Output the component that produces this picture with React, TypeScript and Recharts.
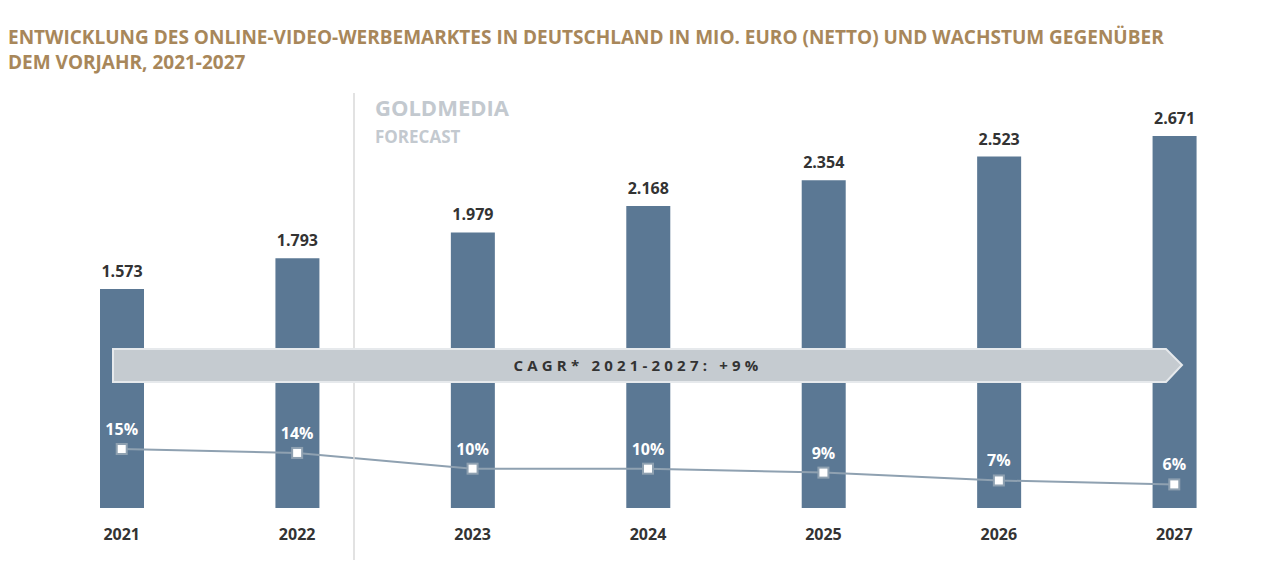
import React from 'react'
import { ComposedChart, Bar, Line, XAxis, YAxis, LabelList } from 'recharts'

const years = ['2021', '2022', '2023', '2024', '2025', '2026', '2027']
const marketValues = [1573, 1793, 1979, 2168, 2354, 2523, 2671]
const growthPct = [15, 14, 10, 10, 9, 7, 6]

const data = years.map((year, i) => ({ year, value: marketValues[i], growth: growthPct[i] }))

const fmt = (v: number) => v.toLocaleString('de-DE')
const font = '"Open Sans", "Noto Sans", sans-serif'

const SquareDot = (props: any) => {
  const { cx, cy } = props
  return <rect x={cx - 5} y={cy - 5} width={10} height={10} fill="#fff" stroke="#8fa1b1" strokeWidth={2} />
}

export default function App() {
  return (
    <div style={{ position: 'fixed', left: 0, top: 0, width: 1262, height: 585, background: '#fff', fontFamily: font }}>
      <div style={{ position: 'absolute', left: 8, top: 25, color: '#a8875a', fontWeight: 700, fontSize: 19, lineHeight: '25px', width: 1250, whiteSpace: 'nowrap' }}>
        ENTWICKLUNG DES ONLINE-VIDEO-WERBEMARKTES IN DEUTSCHLAND IN MIO. EURO (NETTO) UND WACHSTUM GEGENÜBER<br />DEM VORJAHR, 2021-2027
      </div>
      <ComposedChart width={1262} height={585} data={data} margin={{ top: 136, right: 0, left: 34, bottom: 47 }} style={{ position: 'absolute', left: 0, top: 0 }}>
        <XAxis dataKey="year" axisLine={false} tickLine={false} tick={{ fill: '#333', fontSize: 16, fontWeight: 700, fontFamily: font }} dy={13} />
        <YAxis yAxisId="l" hide domain={[0, 2671]} />
        <YAxis yAxisId="r" hide orientation="right" domain={[0, 94.6]} />
        <Bar yAxisId="l" dataKey="value" fill="#5b7894" barSize={44} isAnimationActive={false}>
          <LabelList dataKey="value" position="top" offset={12} formatter={(v: any) => fmt(v)} style={{ fill: '#333', fontSize: 16, fontWeight: 700, fontFamily: font }} />
        </Bar>
        <Line yAxisId="r" dataKey="growth" stroke="#8fa1b1" strokeWidth={2} dot={<SquareDot />} isAnimationActive={false}>
          <LabelList dataKey="growth" position="top" offset={14} formatter={(v: any) => v + '%'} style={{ fill: '#fff', fontSize: 16, fontWeight: 700, fontFamily: font }} />
        </Line>
      </ComposedChart>
      <svg width={1262} height={585} style={{ position: 'absolute', left: 0, top: 0, pointerEvents: 'none' }}>
        <line x1={354} y1={93} x2={354} y2={560} stroke="#d8d8d8" strokeWidth={1.5} />
        <text x={375} y={116} fill="#c3c9cf" fontSize={22} fontWeight={700} fontFamily={font}>GOLDMEDIA</text>
        <text x={375} y={143} fill="#c3c9cf" fontSize={17} fontWeight={700} fontFamily={font}>FORECAST</text>
        <polygon points="113,349 1166,349 1182,365 1166,382 113,382" fill="#c5cbd0" stroke="#e6e9ec" strokeWidth={2} />
        <text x={638} y={371} textAnchor="middle" fill="#333" fontSize={15} fontWeight={700} letterSpacing={4.2} fontFamily={font}>CAGR* 2021-2027: +9%</text>
      </svg>
    </div>
  )
}
